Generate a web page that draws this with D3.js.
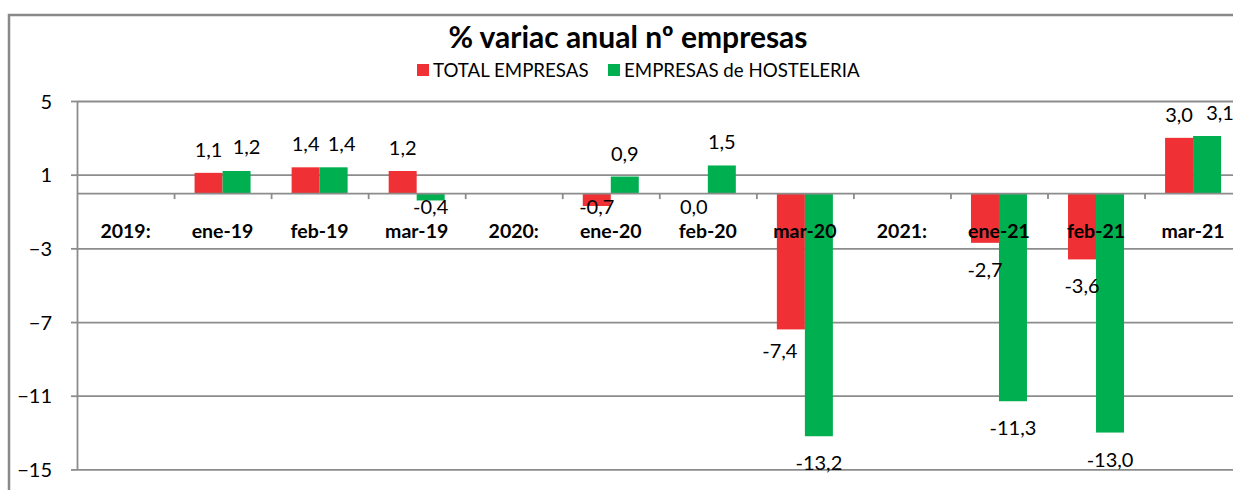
<!DOCTYPE html>
<html>
<head>
<meta charset="utf-8">
<script src="https://cdn.jsdelivr.net/npm/d3@7"></script>
<style>
  html, body { margin: 0; padding: 0; background: #fff; }
  svg { display: block; }
  text { font-family: Lato, "Open Sans", sans-serif; fill: #000; }
</style>
</head>
<body>
<script>
// ---- data ----
const categories = ["2019:", "ene-19", "feb-19", "mar-19", "2020:", "ene-20", "feb-20", "mar-20", "2021:", "ene-21", "feb-21", "mar-21"];
const totalEmpresas = [null, 1.1, 1.4, 1.2, null, -0.7, 0.0, -7.4, null, -2.7, -3.6, 3.0];
const hosteleria   = [null, 1.2, 1.4, -0.4, null, 0.9, 1.5, -13.2, null, -11.3, -13.0, 3.1];
const seriesNames = ["TOTAL EMPRESAS", "EMPRESAS de HOSTELERIA"];
const yTicks = [5, 1, -3, -7, -11, -15];
const titleText = "% variac anual nº empresas";

// ---- layout / style ----
const W = 1233, H = 490;
const colors = ["#EF3135", "#00B050"];
const gridColor = "#8c8c8c";
const plotLeft = 77, plotRight = 1241.6, plotTop = 101, plotBottom = 469.4;

const svg = d3.select("body").append("svg").attr("width", W).attr("height", H);

const locale = d3.formatLocale({decimal: ",", thousands: ".", grouping: [3], currency: ["", "€"], minus: "-"});
const fmt = locale.format(".1f");

const x = d3.scaleBand().domain(categories).range([plotLeft, plotRight]).paddingInner(0).paddingOuter(0);
const xEdge = d3.scaleLinear().domain([0, categories.length]).range([plotLeft, plotRight]);
const y = d3.scaleLinear().domain([-15, 5]).range([plotBottom, plotTop]);
const barW = 28;

// chart border
svg.append("path")
  .attr("d", `M9,${H + 5} L9,15 L${W + 5},15`)
  .attr("fill", "none").attr("stroke", "#898989").attr("stroke-width", 2.5);

// gridlines
const grid = svg.append("g").attr("transform", `translate(${plotLeft},0)`)
  .call(d3.axisLeft(y).tickValues(yTicks).tickSize(-(plotRight - plotLeft)).tickSizeOuter(0).tickFormat(""));
grid.select(".domain").remove();
grid.selectAll(".tick line").attr("stroke", gridColor).attr("stroke-width", 1.8);

// y axis with stubs & labels
const yAxis = svg.append("g").attr("transform", `translate(${plotLeft},0)`)
  .call(d3.axisLeft(y).tickValues(yTicks).tickSize(6).tickSizeOuter(0).tickPadding(19).tickFormat(d3.format("d")));
yAxis.attr("font-family", null).attr("font-size", null);
yAxis.select(".domain").attr("stroke", gridColor).attr("stroke-width", 1.8);
yAxis.selectAll(".tick line").attr("stroke", gridColor).attr("stroke-width", 1.8);
yAxis.selectAll(".tick text").attr("font-size", 20).attr("fill", "#000").attr("dy", "0.35em");

// bars
const series = [totalEmpresas, hosteleria];
series.forEach((vals, si) => {
  const g = svg.append("g");
  categories.forEach((c, i) => {
    const v = vals[i];
    if (v === null) return;
    const cx = x(c) + x.bandwidth() / 2;
    const bx = si === 0 ? cx - barW : cx;
    g.append("rect")
      .attr("x", bx).attr("width", barW)
      .attr("y", Math.min(y(v), y(0)))
      .attr("height", Math.abs(y(v) - y(0)))
      .attr("fill", colors[si]);
  });
});

// zero axis with ticks at category boundaries
const xAxis = svg.append("g").attr("transform", `translate(0,${y(0)})`)
  .call(d3.axisBottom(xEdge).tickValues(d3.range(1, categories.length)).tickSize(6).tickSizeOuter(0).tickFormat(""));
xAxis.select(".domain").attr("stroke", gridColor).attr("stroke-width", 1.8);
xAxis.selectAll(".tick line").attr("stroke", gridColor).attr("stroke-width", 1.8);

// value labels (small manual nudges like the original)
const labelNudge = {
  "0-7": {dx: -11, dy: -5},
  "1-1": {dx: 10, dy: -1},
  "1-2": {dx: 8, dy: 0},
  "1-11": {dx: 13, dy: 0}
};
series.forEach((vals, si) => {
  categories.forEach((c, i) => {
    const v = vals[i];
    if (v === null) return;
    const cx = x(c) + x.bandwidth() / 2 + (si === 0 ? -barW / 2 : barW / 2);
    let ly;
    if (v > 0) ly = y(v) - 23;
    else if (Math.abs(v) < 1) ly = y(0) + 14;
    else ly = y(v) + 27;
    const n = labelNudge[si + "-" + i] || {dx: 0, dy: 0};
    svg.append("text")
      .attr("x", cx + n.dx).attr("y", ly + n.dy)
      .attr("text-anchor", "middle").attr("dy", "0.35em")
      .attr("font-size", 20)
      .text(fmt(v));
  });
});

// category labels (drawn above bars)
svg.append("g").selectAll("text").data(categories).join("text")
  .attr("x", d => x(d) + x.bandwidth() / 2)
  .attr("y", 231.5).attr("dy", "0.35em")
  .attr("text-anchor", "middle")
  .attr("font-weight", "bold").attr("font-size", 19.5)
  .text(d => d);

// title
svg.append("text").attr("x", 628).attr("y", 48)
  .attr("text-anchor", "middle").attr("font-weight", "bold").attr("font-size", 30)
  .text(titleText);

// legend
const legendItems = [{x: 417, tx: 433}, {x: 608, tx: 624}];
seriesNames.forEach((name, i) => {
  svg.append("rect").attr("x", legendItems[i].x).attr("y", 64).attr("width", 12).attr("height", 12).attr("fill", colors[i]);
  svg.append("text").attr("x", legendItems[i].tx).attr("y", 77).attr("font-size", 18.7).text(name);
});
</script>
</body>
</html>
